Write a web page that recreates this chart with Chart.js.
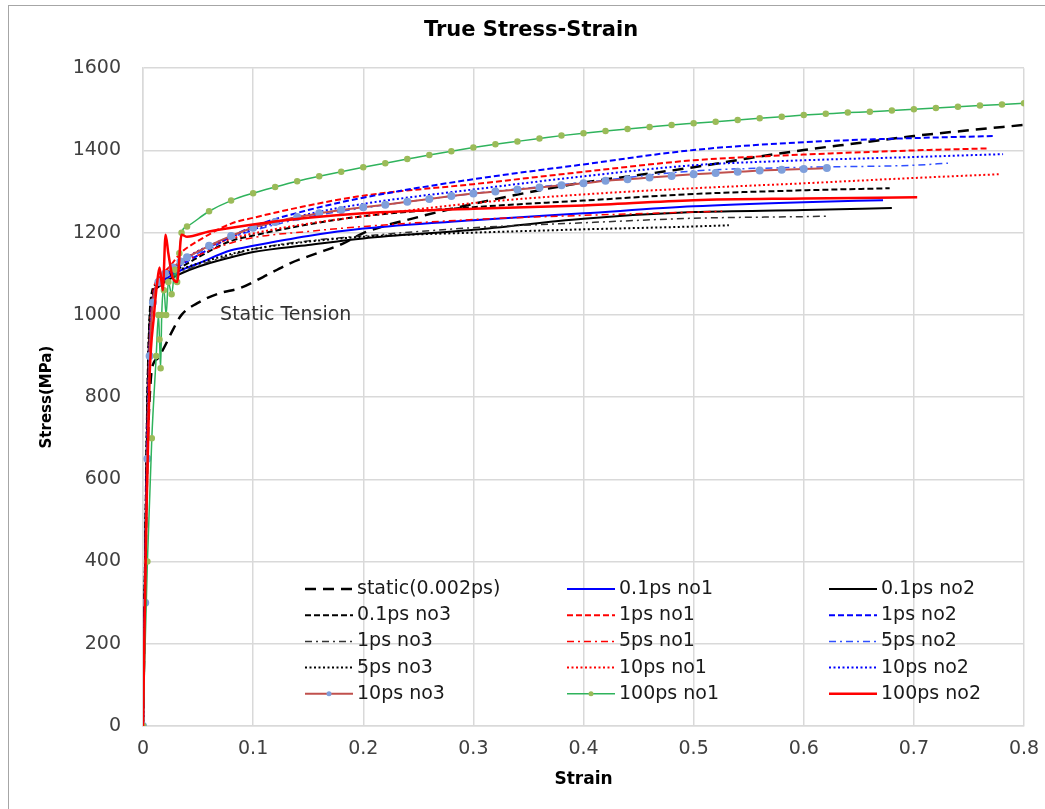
<!DOCTYPE html>
<html>
<head>
<meta charset="utf-8">
<title>True Stress-Strain</title>
<script src="https://cdn.jsdelivr.net/npm/chart.js@4.4.0/dist/chart.umd.min.js"></script>
<style>
  html, body { margin: 0; padding: 0; background: #fff; overflow: hidden; }
  #wrap { width: 1045px; height: 809px; }
  canvas { display: block; }
</style>
</head>
<body>
<div id="wrap"><canvas id="stressChart" width="1045" height="809"></canvas></div>
<script>
// Valores (deformação verdadeira x tensão em MPa)
const xTicks = [0, 0.1, 0.2, 0.3, 0.4, 0.5, 0.6, 0.7, 0.8];
const yTicks = [0, 200, 400, 600, 800, 1000, 1200, 1400, 1600];

const staticStrain = [0, 0.002, 0.004, 0.007, 0.010, 0.013, 0.020, 0.027, 0.035, 0.049, 0.070, 0.088, 0.109, 0.134, 0.158, 0.182, 0.20, 0.25, 0.30, 0.35, 0.40, 0.45, 0.50, 0.55, 0.60, 0.65, 0.70, 0.75, 0.80];
const staticStress = [0, 350, 650, 840, 885, 893, 925, 963, 1000, 1028, 1053, 1065, 1092, 1126, 1150, 1174, 1199, 1238, 1270, 1298, 1322, 1340, 1359, 1381, 1401, 1418, 1435, 1449, 1462];

const p01no1Strain = [0, 0.002, 0.004, 0.006, 0.009, 0.015, 0.025, 0.034, 0.05, 0.08, 0.1, 0.15, 0.2, 0.3, 0.4, 0.5, 0.6, 0.672];
const p01no1Stress = [0, 400, 750, 950, 1040, 1075, 1095, 1108, 1125, 1157, 1168, 1192, 1210, 1230, 1247, 1264, 1274, 1279];

const p01no2Strain = [0, 0.002, 0.004, 0.006, 0.009, 0.015, 0.025, 0.034, 0.05, 0.08, 0.1, 0.15, 0.2, 0.3, 0.4, 0.5, 0.6, 0.68];
const p01no2Stress = [0, 420, 780, 980, 1045, 1070, 1088, 1100, 1117, 1140, 1153, 1170, 1186, 1207, 1234, 1250, 1255, 1260];

const p01no3Strain = [0, 0.002, 0.004, 0.006, 0.008, 0.012, 0.02, 0.034, 0.05, 0.08, 0.1, 0.15, 0.2, 0.3, 0.4, 0.5, 0.6, 0.678];
const p01no3Stress = [0, 450, 820, 1000, 1055, 1075, 1095, 1115, 1140, 1180, 1193, 1220, 1240, 1262, 1278, 1294, 1303, 1308];

const p1no1Strain = [0, 0.002, 0.004, 0.006, 0.009, 0.015, 0.025, 0.034, 0.05, 0.08, 0.1, 0.15, 0.2, 0.3, 0.4, 0.5, 0.6, 0.7, 0.767];
const p1no1Stress = [0, 380, 720, 940, 1050, 1090, 1120, 1150, 1180, 1222, 1236, 1266, 1290, 1318, 1348, 1376, 1390, 1400, 1405];

const p1no2Strain = [0, 0.002, 0.004, 0.006, 0.009, 0.015, 0.025, 0.034, 0.05, 0.08, 0.1, 0.15, 0.2, 0.3, 0.4, 0.5, 0.6, 0.7, 0.772];
const p1no2Stress = [0, 360, 700, 920, 1040, 1075, 1100, 1120, 1145, 1190, 1215, 1255, 1285, 1330, 1366, 1401, 1420, 1430, 1435];

const p1no3Strain = [0, 0.002, 0.004, 0.006, 0.009, 0.015, 0.025, 0.034, 0.05, 0.08, 0.1, 0.15, 0.2, 0.3, 0.4, 0.5, 0.6, 0.622];
const p1no3Stress = [0, 400, 760, 960, 1040, 1070, 1090, 1103, 1120, 1145, 1160, 1180, 1192, 1212, 1224, 1235, 1239, 1240];

const p5no1Strain = [0, 0.002, 0.004, 0.006, 0.009, 0.015, 0.025, 0.034, 0.05, 0.08, 0.1, 0.15, 0.2, 0.3, 0.4, 0.5, 0.526];
const p5no1Stress = [0, 390, 740, 950, 1045, 1080, 1105, 1125, 1145, 1175, 1188, 1203, 1215, 1232, 1242, 1250, 1252];

const p5no2Strain = [0, 0.002, 0.004, 0.006, 0.009, 0.015, 0.025, 0.034, 0.05, 0.08, 0.1, 0.15, 0.2, 0.3, 0.4, 0.5, 0.6, 0.7, 0.731];
const p5no2Stress = [0, 370, 710, 930, 1040, 1080, 1105, 1125, 1150, 1188, 1205, 1238, 1260, 1295, 1322, 1350, 1359, 1364, 1369];

const p5no3Strain = [0, 0.002, 0.004, 0.006, 0.009, 0.015, 0.025, 0.034, 0.05, 0.08, 0.1, 0.15, 0.2, 0.3, 0.4, 0.5, 0.532];
const p5no3Stress = [0, 430, 800, 990, 1050, 1080, 1098, 1110, 1125, 1148, 1160, 1178, 1190, 1200, 1208, 1215, 1218];

const p10no1Strain = [0, 0.002, 0.004, 0.006, 0.009, 0.015, 0.025, 0.034, 0.05, 0.08, 0.1, 0.15, 0.2, 0.3, 0.4, 0.5, 0.6, 0.7, 0.777];
const p10no1Stress = [0, 380, 720, 930, 1040, 1080, 1110, 1130, 1155, 1185, 1198, 1222, 1240, 1272, 1293, 1308, 1320, 1333, 1342];

const p10no2Strain = [0, 0.002, 0.004, 0.006, 0.009, 0.015, 0.025, 0.034, 0.05, 0.08, 0.1, 0.15, 0.2, 0.3, 0.4, 0.5, 0.6, 0.7, 0.781];
const p10no2Stress = [0, 370, 700, 920, 1035, 1080, 1108, 1128, 1155, 1190, 1208, 1245, 1270, 1305, 1337, 1364, 1376, 1384, 1391];

const p10no3Strain = [0, 0.002, 0.004, 0.006, 0.009, 0.014, 0.02, 0.027, 0.034, 0.04, 0.06, 0.08, 0.10, 0.12, 0.14, 0.16, 0.18, 0.20, 0.22, 0.24, 0.26, 0.28, 0.30, 0.32, 0.34, 0.36, 0.38, 0.40, 0.42, 0.44, 0.46, 0.48, 0.50, 0.52, 0.54, 0.56, 0.58, 0.60, 0.621];
const p10no3Stress = [0, 300, 650, 900, 1030, 1080, 1100, 1115, 1130, 1140, 1168, 1192, 1212, 1226, 1238, 1247, 1255, 1262, 1268, 1275, 1282, 1289, 1295, 1300, 1305, 1310, 1315, 1320, 1326, 1330, 1334, 1338, 1342, 1345, 1348, 1351, 1353, 1355, 1357];

const p100no1Strain = [0, 0.004, 0.008, 0.012, 0.014, 0.015, 0.016, 0.017, 0.019, 0.021, 0.023, 0.026, 0.029, 0.031, 0.033, 0.035, 0.04, 0.06, 0.08, 0.10, 0.12, 0.14, 0.16, 0.18, 0.20, 0.22, 0.24, 0.26, 0.28, 0.30, 0.32, 0.34, 0.36, 0.38, 0.40, 0.42, 0.44, 0.46, 0.48, 0.50, 0.52, 0.54, 0.56, 0.58, 0.60, 0.62, 0.64, 0.66, 0.68, 0.70, 0.72, 0.74, 0.76, 0.78, 0.80];
const p100no1Stress = [0, 400, 700, 900, 1000, 940, 870, 1000, 1060, 1000, 1080, 1050, 1110, 1080, 1150, 1200, 1215, 1252, 1278, 1296, 1311, 1325, 1337, 1348, 1359, 1369, 1379, 1389, 1398, 1407, 1415, 1422, 1429, 1436, 1442, 1447, 1452, 1457, 1462, 1466, 1470, 1474, 1478, 1482, 1486, 1489, 1492, 1494, 1497, 1500, 1503, 1506, 1509, 1512, 1515];

const p100no2Strain = [0, 0.003, 0.006, 0.010, 0.0125, 0.015, 0.018, 0.0205, 0.023, 0.027, 0.031, 0.035, 0.04, 0.06, 0.1, 0.15, 0.2, 0.3, 0.4, 0.5, 0.6, 0.703];
const p100no2Stress = [0, 500, 850, 1000, 1070, 1115, 1060, 1195, 1150, 1090, 1080, 1195, 1190, 1203, 1220, 1236, 1247, 1258, 1266, 1279, 1283, 1286];

const toPoints = (xs, ys) => xs.map((x, i) => ({ x: x, y: ys[i] }));

const datasets = [
    { label: 'static(0.002ps)', data: toPoints(staticStrain, staticStress), borderColor: '#000000', borderWidth: 2.5, borderDash: [11, 7] },
    { label: '0.1ps no1', data: toPoints(p01no1Strain, p01no1Stress), borderColor: '#0000ff', borderWidth: 2 },
    { label: '0.1ps no2', data: toPoints(p01no2Strain, p01no2Stress), borderColor: '#000000', borderWidth: 2 },
    { label: '0.1ps no3', data: toPoints(p01no3Strain, p01no3Stress), borderColor: '#000000', borderWidth: 2, borderDash: [6, 3] },
    { label: '1ps no1', data: toPoints(p1no1Strain, p1no1Stress), borderColor: '#ff0000', borderWidth: 2, borderDash: [6, 3] },
    { label: '1ps no2', data: toPoints(p1no2Strain, p1no2Stress), borderColor: '#0000ff', borderWidth: 2, borderDash: [6, 3] },
    { label: '1ps no3', data: toPoints(p1no3Strain, p1no3Stress), borderColor: '#333333', borderWidth: 1.5, borderDash: [7, 4, 2, 4] },
    { label: '5ps no1', data: toPoints(p5no1Strain, p5no1Stress), borderColor: '#ff0000', borderWidth: 1.5, borderDash: [7, 4, 2, 4] },
    { label: '5ps no2', data: toPoints(p5no2Strain, p5no2Stress), borderColor: '#2f4fff', borderWidth: 1.5, borderDash: [7, 4, 2, 4] },
    { label: '5ps no3', data: toPoints(p5no3Strain, p5no3Stress), borderColor: '#000000', borderWidth: 2, borderDash: [2, 2.5] },
    { label: '10ps no1', data: toPoints(p10no1Strain, p10no1Stress), borderColor: '#ff0000', borderWidth: 2, borderDash: [2, 2.5] },
    { label: '10ps no2', data: toPoints(p10no2Strain, p10no2Stress), borderColor: '#0000ff', borderWidth: 2, borderDash: [2, 2.5] },
    { label: '10ps no3', data: toPoints(p10no3Strain, p10no3Stress), borderColor: '#c0504d', borderWidth: 2,
      pointRadius: 3, pointBackgroundColor: '#7f9fdb', pointBorderColor: '#7f9fdb' },
    { label: '100ps no1', data: toPoints(p100no1Strain, p100no1Stress), borderColor: '#2fb35c', borderWidth: 1.5,
      pointRadius: 2.5, pointBackgroundColor: '#9bbb59', pointBorderColor: '#9bbb59' },
    { label: '100ps no2', data: toPoints(p100no2Strain, p100no2Stress), borderColor: '#ff0000', borderWidth: 2.5 }
];

// a última série fica por cima, como no Excel
datasets.forEach((ds, i) => {
    ds.showLine = true;
    ds.fill = false;
    ds.cubicInterpolationMode = 'monotone';
    if (ds.pointRadius === undefined) ds.pointRadius = 0;
    ds.pointHoverRadius = 0;
    ds.order = datasets.length - i;
});

const FONT = 'DejaVu Sans';

// fundo e moldura
const framePlugin = {
    id: 'frame',
    beforeDraw(chart) {
        const ctx = chart.ctx;
        ctx.save();
        ctx.fillStyle = '#ffffff';
        ctx.fillRect(0, 0, chart.width, chart.height);
        ctx.strokeStyle = '#a6a6a6';
        ctx.lineWidth = 1;
        ctx.strokeRect(8.5, 5.5, chart.width + 10, chart.height + 10);
        ctx.restore();
    }
};

// legenda em grade 3 colunas dentro da área do gráfico + anotação
const gridLegendPlugin = {
    id: 'gridLegend',
    afterDraw(chart) {
        const ctx = chart.ctx;
        ctx.save();
        ctx.font = '19px "' + FONT + '"';
        ctx.textBaseline = 'middle';
        ctx.textAlign = 'left';
        chart.data.datasets.forEach((ds, i) => {
            const col = i % 3;
            const row = Math.floor(i / 3);
            const x = 305 + col * 262;
            const y = 589 + row * 26.2;
            ctx.setLineDash(ds.borderDash || []);
            ctx.strokeStyle = ds.borderColor;
            ctx.lineWidth = ds.borderWidth;
            ctx.beginPath();
            ctx.moveTo(x, y);
            ctx.lineTo(x + 48, y);
            ctx.stroke();
            ctx.setLineDash([]);
            if (ds.pointRadius > 0) {
                ctx.fillStyle = ds.pointBackgroundColor;
                ctx.beginPath();
                ctx.arc(x + 24, y, 2.5, 0, Math.PI * 2);
                ctx.fill();
            }
            ctx.fillStyle = '#1a1a1a';
            ctx.fillText(ds.label, x + 52, y);
        });

        const sx = chart.scales.x.getPixelForValue(0.07);
        const sy = chart.scales.y.getPixelForValue(1000);
        ctx.fillStyle = '#333333';
        ctx.fillText('Static Tension', sx, sy);
        ctx.restore();
    }
};

new Chart(document.getElementById('stressChart').getContext('2d'), {
    type: 'scatter',
    data: { datasets: datasets },
    options: {
        responsive: false,
        animation: false,
        layout: { padding: { left: 38, right: 21, top: 0, bottom: 0 } },
        plugins: {
            legend: { display: false },
            tooltip: { enabled: false },
            title: {
                display: true,
                text: 'True Stress-Strain',
                color: '#000000',
                font: { family: FONT, size: 21, weight: 'bold' },
                padding: { top: 18, bottom: 25 }
            }
        },
        scales: {
            x: {
                type: 'linear',
                min: xTicks[0],
                max: xTicks[xTicks.length - 1],
                afterBuildTicks: (scale) => { scale.ticks = xTicks.map(v => ({ value: v })); },
                afterFit: (scale) => { scale.height = 83; },
                ticks: {
                    color: '#404040',
                    font: { family: FONT, size: 19 },
                    padding: 0,
                    maxRotation: 0,
                    callback: (v) => v === 0 ? '0' : Number(v).toFixed(1)
                },
                grid: { color: '#d9d9d9', lineWidth: 1.5, drawTicks: true, tickLength: 12, tickColor: 'rgba(0,0,0,0)' },
                border: { color: '#d9d9d9', width: 1.5 },
                title: {
                    display: true,
                    text: 'Strain',
                    color: '#000000',
                    font: { family: FONT, size: 17, weight: 'bold' },
                    padding: { top: 0, bottom: 19 }
                }
            },
            y: {
                type: 'linear',
                min: yTicks[0],
                max: yTicks[yTicks.length - 1],
                afterBuildTicks: (scale) => { scale.ticks = yTicks.map(v => ({ value: v })); },
                afterFit: (scale) => { scale.width = 105; },
                ticks: {
                    color: '#404040',
                    font: { family: FONT, size: 19 },
                    padding: 22,
                    callback: (v) => String(v)
                },
                grid: { color: '#d9d9d9', lineWidth: 1.5, drawTicks: false },
                border: { color: '#d9d9d9', width: 1.5 },
                title: {
                    display: true,
                    text: 'Stress(MPa)',
                    color: '#000000',
                    font: { family: FONT, size: 15, weight: 'bold' },
                    padding: { top: 0, bottom: 0 }
                }
            }
        }
    },
    plugins: [framePlugin, gridLegendPlugin]
});
</script>
</body>
</html>
